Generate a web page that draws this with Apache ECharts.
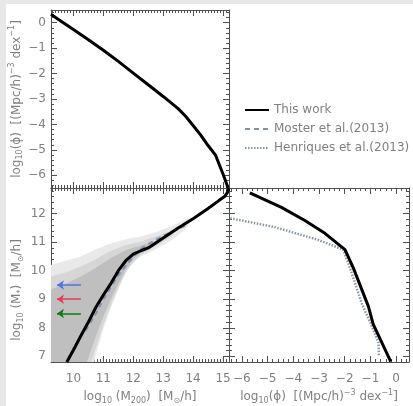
<!DOCTYPE html>
<html><head><meta charset="utf-8">
<script src="https://cdn.jsdelivr.net/npm/echarts@6/dist/echarts.min.js"></script>
<style>html,body{margin:0;padding:0;background:#e8e8e8}#c{width:413px;height:406px}</style>
</head><body><div id="c"></div><script>
// ---- tick labels ----
const mTicks = [10, 11, 12, 13, 14, 15];
const sTicks = [7, 8, 9, 10, 11, 12];
const phiTicks = [-6, -5, -4, -3, -2, -1, 0];

// ---- top-left: halo mass function ----
const hmfM   = [9.25, 9.5, 10.0, 10.5, 11.0, 11.5, 12.0, 12.5, 13.0, 13.5, 13.75, 14.0, 14.25, 14.5, 14.75, 15.0, 15.17];
const hmfPhi = [0.33, 0.13, -0.27, -0.67, -1.08, -1.52, -1.98, -2.44, -2.9, -3.38, -3.68, -4.04, -4.41, -4.83, -5.21, -5.95, -6.5];

// ---- bottom-left: stellar mass - halo mass relation ----
const smhmM = [9.78, 10.0, 10.25, 10.5, 10.75, 11.0, 11.25, 11.5, 11.75, 12.0, 12.25, 12.5, 12.75, 13.0, 13.5, 14.0, 14.5, 14.85, 15.05, 15.15, 15.2];
const smhmS = [6.8, 7.22, 7.72, 8.2, 8.72, 9.15, 9.55, 10.0, 10.35, 10.58, 10.7, 10.8, 10.97, 11.15, 11.5, 11.82, 12.18, 12.45, 12.6, 12.75, 12.9];
const mosterM = [10.4, 10.7, 11.0, 11.5, 12.0, 12.3, 12.7, 13.0, 13.4, 13.75];
const mosterS = [7.9, 8.4, 9.0, 9.85, 10.5, 10.8, 11.05, 11.22, 11.42, 11.58];
// scatter cloud outlines [log M200, log M*]
const cloudOuter = [[9.25,10.2],[9.75,10.35],[10.25,10.5],[10.75,10.75],[11.25,10.95],[11.75,11.1],[12.25,11.2],[12.75,11.35],[13.25,11.55],[13.75,11.8],[14.0,11.9],
  [13.75,11.45],[13.25,11.05],[12.75,10.75],[12.25,10.5],[12.0,10.3],[11.75,9.95],[11.5,9.35],[11.25,8.7],[11.0,7.95],[10.75,7.05],[10.7,6.8],[9.25,6.8]];
const cloudMid = [[9.25,9.8],[9.75,9.95],[10.25,10.15],[10.75,10.4],[11.25,10.7],[11.75,10.9],[12.25,11.02],[12.75,11.2],[13.25,11.4],[13.6,11.55],
  [13.25,11.2],[12.75,10.85],[12.25,10.55],[12.0,10.3],[11.75,9.95],[11.5,9.4],[11.25,8.8],[11.0,8.1],[10.75,7.3],[10.6,6.8],[9.25,6.8]];
const cloudInner = [[9.25,9.35],[9.75,9.55],[10.25,9.8],[10.75,10.1],[11.25,10.45],[11.75,10.72],[12.25,10.88],[12.75,11.05],[13.0,11.12],
  [12.75,10.92],[12.25,10.62],[12.0,10.4],[11.75,10.05],[11.5,9.55],[11.25,9.0],[11.0,8.4],[10.75,7.7],[10.45,6.8],[9.25,6.8]];
const arrowS = [9.5, 9.0, 8.5];
const arrowFromM = 10.25, arrowToM = 9.45;

// ---- bottom-right: stellar mass function ----
const smfPhi = [-5.69, -4.46, -3.55, -2.77, -1.99, -1.67, -1.08, -0.89, -0.56, -0.21];
const smfS   = [12.73, 12.22, 11.76, 11.31, 10.74, 10.11, 8.75, 8.12, 7.49, 6.81];
const henPhi = [-6.45, -4.72, -3.03, -2.06, -1.8, -1.34, -0.95, -0.69, -0.67];
const henS   = [11.84, 11.53, 11.08, 10.74, 10.11, 8.86, 8.06, 7.49, 7.04];

const zip = (a, b) => a.map((v, i) => [v, b[i]]);

const AX = '#505050', TXT = '#808080', FONT = 'DejaVu Sans';
const rich = {
  n: {fontSize: 12, lineHeight: 16, color: TXT, fontFamily: FONT},
  s: {fontSize: 8, lineHeight: 8, verticalAlign: 'bottom', color: TXT, fontFamily: FONT},
  p: {fontSize: 8, lineHeight: 8, verticalAlign: 'top', color: TXT, fontFamily: FONT}
};
const phiName = '{n|log}{s|10}{n|(ϕ)  [(Mpc/h)}{p|−3}{n| dex}{p|−1}{n|]}';
const msName = '{n|log}{s|10}{n| (M}{s|*}{n|)  [M}{s|⊙}{n|/h]}';
const mhName = '{n|log}{s|10}{n| (M}{s|200}{n|)  [M}{s|⊙}{n|/h]}';

function minorVals(min, max, step) {
  const r = [];
  for (let v = Math.ceil(min / step - 1e-9) * step; v <= max + 1e-9; v += step) r.push(+v.toFixed(4));
  return r;
}
const fmt = v => (v < 0 ? '−' + Math.abs(v) : String(v));

function axisPair(kind, grid, pos, min, max, majors, minorStep, labels, name, nameGap, namePad) {
  const base = {type: 'value', gridIndex: grid, position: pos, min: min, max: max,
    splitLine: {show: false}, axisPointer: {show: false}};
  const major = Object.assign({}, base, {
    axisLine: {show: true, onZero: false, lineStyle: {color: AX, width: 1}},
    axisTick: {show: true, inside: true, length: 6, customValues: majors, lineStyle: {color: AX}},
    axisLabel: {show: labels, customValues: majors, color: TXT, fontFamily: FONT, fontSize: 12,
      margin: kind === 'x' ? 11 : 5, formatter: fmt}
  });
  if (name) {
    major.name = name;
    major.nameLocation = 'middle';
    major.nameGap = nameGap;
    major.nameTextStyle = {rich: rich, color: TXT, padding: namePad || 0};
    if (kind === 'y') major.nameRotate = 90;
  }
  const minor = Object.assign({}, base, {
    axisLine: {show: false, onZero: false},
    axisTick: {show: true, inside: true, length: 3, customValues: minorVals(min, max, minorStep), lineStyle: {color: AX}},
    axisLabel: {show: false}
  });
  return [major, minor];
}

const M0 = 9.25, M1 = 15.2, S0 = 6.8, S1 = 12.9, P0 = -6.5, P1 = 0.5;
const xAxis = [].concat(
  axisPair('x', 0, 'bottom', M0, M1, mTicks, 0.1, false),          // 0,1
  axisPair('x', 0, 'top', M0, M1, mTicks, 0.1, false),             // 2,3
  axisPair('x', 1, 'bottom', M0, M1, mTicks, 0.1, true, mhName, 27), // 4,5
  axisPair('x', 1, 'top', M0, M1, mTicks, 0.1, false),             // 6,7
  axisPair('x', 2, 'bottom', P0, P1, phiTicks, 0.2, true, phiName, 27), // 8,9
  axisPair('x', 2, 'top', P0, P1, phiTicks, 0.2, false)            // 10,11
);
const yAxis = [].concat(
  axisPair('y', 0, 'left', P0, P1, phiTicks, 0.2, true, phiName, 26), // 0,1
  axisPair('y', 0, 'right', P0, P1, phiTicks, 0.2, false),          // 2,3
  axisPair('y', 1, 'left', S0, S1, sTicks, 0.2, true, msName, 26, [0, 30, 0, 0]),  // 4,5
  axisPair('y', 1, 'right', S0, S1, sTicks, 0.2, false),            // 6,7
  axisPair('y', 2, 'left', S0, S1, sTicks, 0.2, false),             // 8,9
  axisPair('y', 2, 'right', S0, S1, sTicks, 0.2, false)             // 10,11
);

function polySeries(poly, fill, z) {
  return {type: 'custom', xAxisIndex: 4, yAxisIndex: 4, clip: true, z: z, silent: true,
    data: poly,
    renderItem: function (params, api) {
      if (params.dataIndex !== 0) return null;
      return {type: 'polygon', shape: {points: poly.map(p => api.coord(p))}, style: {fill: fill}};
    }};
}

const arrowColors = ['#4f74e6', '#e8395e', '#157a15'];
const NOSYM = {color: 'rgba(0,0,0,0)', borderColor: 'rgba(0,0,0,0)'};

const chart = echarts.init(document.getElementById('c'), null, {renderer: 'canvas'});
chart.setOption({
  animation: false,
  backgroundColor: '#e8e8e8',
  graphic: [{type: 'rect', left: 6, top: 4, z: -10, silent: true, shape: {width: 407, height: 402}, style: {fill: '#ffffff'}}],
  grid: [
    {left: 51, top: 10, width: 178, height: 178},
    {left: 51, top: 188, width: 178, height: 179},
    {left: 229, top: 188, width: 180, height: 179}
  ],
  legend: {
    orient: 'vertical', left: 244, top: 104, padding: 0, itemGap: 7, itemWidth: 24, itemHeight: 12,
    itemStyle: {opacity: 0},
    textStyle: {color: TXT, fontFamily: FONT, fontSize: 12},
    data: ['This work', 'Moster et al.(2013)', 'Henriques et al.(2013)']
  },
  xAxis: xAxis,
  yAxis: yAxis,
  series: [
    polySeries(cloudOuter, '#e9e9e9', 1),
    polySeries(cloudMid, '#d6d6d6', 1),
    polySeries(cloudInner, '#bfbfbf', 1),
    {type: 'lines', coordinateSystem: 'cartesian2d', xAxisIndex: 4, yAxisIndex: 4, z: 3,
      symbol: ['none', 'arrow'], symbolSize: [0, 7],
      data: arrowS.map((s, i) => ({coords: [[arrowFromM, s], [arrowToM, s]], lineStyle: {color: arrowColors[i], width: 1.5, opacity: 1}}))},
    {name: 'Moster et al.(2013)', type: 'line', xAxisIndex: 4, yAxisIndex: 4, symbol: 'none', z: 4,
      data: zip(mosterM, mosterS), lineStyle: {color: '#7a92ad', width: 2, type: [5, 4]}, itemStyle: NOSYM},
    {name: 'This work', type: 'line', xAxisIndex: 0, yAxisIndex: 0, symbol: 'none', z: 5,
      data: zip(hmfM, hmfPhi), lineStyle: {color: '#000', width: 3}, itemStyle: NOSYM},
    {name: 'This work', type: 'line', xAxisIndex: 4, yAxisIndex: 4, symbol: 'none', z: 5,
      data: zip(smhmM, smhmS), lineStyle: {color: '#000', width: 3}, itemStyle: NOSYM},
    {name: 'Henriques et al.(2013)', type: 'line', xAxisIndex: 8, yAxisIndex: 8, symbol: 'none', z: 4,
      data: zip(henPhi, henS), lineStyle: {color: '#8595aa', width: 2.5, type: [1.5, 1.5]}, itemStyle: NOSYM},
    {name: 'This work', type: 'line', xAxisIndex: 8, yAxisIndex: 8, symbol: 'none', z: 5,
      data: zip(smfPhi, smfS), lineStyle: {color: '#000', width: 3}, itemStyle: NOSYM}
  ]
});
</script></body></html>
